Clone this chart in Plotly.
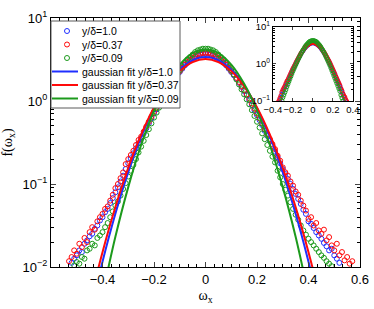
import plotly.graph_objects as go

# bin centres of omega_x (shared by all series)
omega_x = [-0.53, -0.52, -0.51, -0.50, -0.49, -0.48, -0.47, -0.46, -0.45, -0.44,
           -0.43, -0.42, -0.41, -0.40, -0.39, -0.38, -0.37, -0.36, -0.35, -0.34,
           -0.33, -0.32, -0.31, -0.30, -0.29, -0.28, -0.27, -0.26, -0.25, -0.24,
           -0.23, -0.22, -0.21, -0.20, -0.19, -0.18, -0.17, -0.16, -0.15, -0.14,
           -0.13, -0.12, -0.11, -0.10, -0.09, -0.08, -0.07, -0.06, -0.05, -0.04,
           -0.03, -0.02, -0.01, 0.00, 0.01, 0.02, 0.03, 0.04, 0.05, 0.06,
           0.07, 0.08, 0.09, 0.10, 0.11, 0.12, 0.13, 0.14, 0.15, 0.16,
           0.17, 0.18, 0.19, 0.20, 0.21, 0.22, 0.23, 0.24, 0.25, 0.26,
           0.27, 0.28, 0.29, 0.30, 0.31, 0.32, 0.33, 0.34, 0.35, 0.36,
           0.37, 0.38, 0.39, 0.40, 0.41, 0.42, 0.43, 0.44, 0.45, 0.46,
           0.47, 0.48, 0.49, 0.50, 0.51, 0.52, 0.53, 0.54, 0.55, 0.56, 0.57]

# log10 f(omega_x)
log10f_y100 = [None, -1.95, -1.90, -1.86, -1.80, -1.82, -1.72, -1.68, -1.63, -1.60,
               -1.54, -1.50, -1.44, -1.40, -1.34, -1.30, -1.23, -1.17, -1.10, -1.04,
               -0.97, -0.90, -0.82, -0.75, -0.69, -0.63, -0.57, -0.51, -0.45, -0.39,
               -0.33, -0.27, -0.21, -0.15, -0.10, -0.04, 0.01, 0.07, 0.12, 0.17,
               0.22, 0.27, 0.31, 0.35, 0.39, 0.43, 0.46, 0.49, 0.51, 0.53,
               0.55, 0.56, 0.57, 0.57, 0.57, 0.56, 0.55, 0.53, 0.51, 0.49,
               0.46, 0.43, 0.39, 0.35, 0.31, 0.27, 0.22, 0.17, 0.12, 0.07,
               0.01, -0.05, -0.11, -0.17, -0.23, -0.29, -0.36, -0.42, -0.48, -0.54,
               -0.61, -0.68, -0.75, -0.82, -0.88, -0.94, -1.00, -1.06, -1.12, -1.18,
               -1.24, -1.31, -1.36, -1.45, -1.48, -1.53, -1.58, -1.62, -1.66, -1.71,
               -1.75, -1.80, -1.78, -1.86, -1.90, -1.95, None, None, None, None, None]

log10f_y037 = [-1.93, -1.88, -1.80, -1.84, -1.72, -1.76, -1.65, -1.70, -1.58, -1.52,
               -1.55, -1.45, -1.40, -1.36, -1.30, -1.27, -1.20, -1.13, -1.05, -1.00,
               -0.93, -0.86, -0.76, -0.70, -0.65, -0.60, -0.53, -0.47, -0.43, -0.37,
               -0.31, -0.25, -0.19, -0.13, -0.08, -0.03, 0.03, 0.08, 0.13, 0.18,
               0.23, 0.28, 0.32, 0.36, 0.40, 0.44, 0.47, 0.50, 0.52, 0.54,
               0.56, 0.57, 0.58, 0.58, 0.58, 0.57, 0.56, 0.54, 0.52, 0.50,
               0.47, 0.44, 0.40, 0.36, 0.32, 0.28, 0.23, 0.18, 0.13, 0.08,
               0.03, -0.03, -0.09, -0.15, -0.21, -0.27, -0.34, -0.40, -0.46, -0.52,
               -0.58, -0.66, -0.72, -0.80, -0.86, -0.90, -0.97, -1.02, -1.09, -1.13,
               -1.20, -1.26, -1.32, -1.42, -1.40, -1.50, -1.47, -1.56, -1.60, -1.55,
               -1.68, -1.64, -1.74, -1.80, -1.72, -1.86, -1.82, -1.92, -1.88, -1.96, -1.93]

log10f_y009 = [None, None, -1.98, -1.94, -1.96, -1.88, -1.90, -1.80, -1.78, -1.72,
               -1.74, -1.65, -1.62, -1.58, -1.52, -1.47, -1.40, -1.33, -1.26, -1.21,
               -1.14, -1.06, -0.99, -0.91, -0.84, -0.77, -0.70, -0.62, -0.55, -0.48,
               -0.41, -0.34, -0.27, -0.20, -0.14, -0.08, -0.02, 0.04, 0.10, 0.16,
               0.21, 0.27, 0.32, 0.37, 0.41, 0.46, 0.50, 0.53, 0.56, 0.59,
               0.61, 0.62, 0.63, 0.63, 0.63, 0.62, 0.61, 0.59, 0.56, 0.53,
               0.50, 0.46, 0.41, 0.37, 0.32, 0.26, 0.20, 0.14, 0.08, 0.02,
               -0.04, -0.11, -0.18, -0.25, -0.32, -0.39, -0.46, -0.53, -0.60, -0.67,
               -0.74, -0.84, -0.92, -1.00, -1.07, -1.14, -1.22, -1.30, -1.37, -1.43,
               -1.50, -1.56, -1.61, -1.66, -1.70, -1.74, -1.78, -1.82, -1.86, -1.89,
               -1.93, -1.96, -1.99, None, None, None, None, None, None, None, None]

fit_x = [-0.45, -0.40, -0.35, -0.30, -0.25, -0.20, -0.15, -0.10, -0.05, 0.00,
         0.05, 0.10, 0.15, 0.20, 0.25, 0.30, 0.35, 0.40, 0.45]
fit_y100 = [0.00256, 0.0116, 0.0439, 0.139, 0.369, 0.820, 1.53, 2.38, 3.11, 3.40,
            3.11, 2.38, 1.53, 0.820, 0.369, 0.139, 0.0439, 0.0116, 0.00256]
fit_y037 = [0.00363, 0.0151, 0.0528, 0.157, 0.394, 0.838, 1.51, 2.29, 2.94, 3.20,
            2.94, 2.29, 1.51, 0.838, 0.394, 0.157, 0.0528, 0.0151, 0.00363]
fit_y009 = [0.0010, 0.00469, 0.0231, 0.0917, 0.295, 0.767, 1.61, 2.74, 3.78, 4.20,
            3.78, 2.74, 1.61, 0.767, 0.295, 0.0917, 0.0231, 0.00469, 0.0010]

names_pts = ["y/δ=1.0", "y/δ=0.37", "y/δ=0.09"]
names_fit = ["gaussian fit y/δ=1.0", "gaussian fit y/δ=0.37", "gaussian fit y/δ=0.09"]
colors = ["#1f2fff", "#ff0a0a", "#1c9a1c"]


def to_f(vals):
    return [None if v is None else 10 ** v for v in vals]


pts = [to_f(log10f_y100), to_f(log10f_y037), to_f(log10f_y009)]
fits = [fit_y100, fit_y037, fit_y009]

fig = go.Figure()
for i in range(3):
    fig.add_trace(go.Scatter(x=omega_x, y=pts[i], mode="markers", name=names_pts[i],
                             showlegend=False,
                             marker=dict(symbol="circle-open", size=5, color=colors[i],
                                         line=dict(width=1, color=colors[i])),
                             xaxis="x", yaxis="y"))
for i in range(3):
    fig.add_trace(go.Scatter(x=fit_x, y=fits[i], mode="lines", name=names_fit[i],
                             showlegend=False,
                             line=dict(color=colors[i], width=2, shape="spline"),
                             xaxis="x", yaxis="y"))
# inset
for i in range(3):
    fig.add_trace(go.Scatter(x=omega_x, y=pts[i], mode="markers", showlegend=False,
                             marker=dict(symbol="circle-open", size=4, color=colors[i],
                                         line=dict(width=1, color=colors[i])),
                             xaxis="x2", yaxis="y2"))

# ---- compact legend box (drawn as layout shapes + text) ----
W, H = 374, 309
L, R, T, B = 51, 14, 18, 42
PW, PH = W - L - R, H - T - B


def px_x(p):
    return (p - L) / PW


def px_y(p):
    return (H - B - p) / PH


shapes = [dict(type="rect", xref="paper", yref="paper", layer="above",
               x0=px_x(51), x1=px_x(180), y0=px_y(108), y1=px_y(21),
               line=dict(color="#5a5a5a", width=1), fillcolor="white")]
annotations = []
row_y = [31, 44.5, 58, 71.5, 85, 98.5]
legend_font = dict(family="Liberation Sans, Arial, sans-serif", size=10.5, color="black")
for k in range(6):
    cy = row_y[k]
    if k < 3:
        c = colors[k]
        shapes.append(dict(type="circle", xref="paper", yref="paper", layer="above",
                           x0=px_x(64.5), x1=px_x(69.5), y0=px_y(cy + 2.5), y1=px_y(cy - 2.5),
                           line=dict(color=c, width=1), fillcolor="rgba(0,0,0,0)"))
        label = names_pts[k]
    else:
        c = colors[k - 3]
        shapes.append(dict(type="line", xref="paper", yref="paper", layer="above",
                           x0=px_x(52), x1=px_x(78), y0=px_y(cy), y1=px_y(cy),
                           line=dict(color=c, width=2)))
        label = names_fit[k - 3]
    annotations.append(dict(text=label, xref="paper", yref="paper", x=px_x(80), y=px_y(cy),
                            xanchor="left", yanchor="middle", showarrow=False,
                            font=legend_font))

sup = lambda e: "10<sup>%s</sup>" % e
minor_log = [m * 10 ** k for k in (-3, -2, -1, 0) for m in range(2, 10)]
tickfont = dict(family="Liberation Sans, Arial, sans-serif", size=13, color="black")
smallfont = dict(family="Liberation Sans, Arial, sans-serif", size=9.5, color="black")
titlefont = dict(family="Liberation Serif, Times New Roman, serif", size=14, color="black")

fig.update_layout(
    width=W, height=H,
    margin=dict(l=L, r=R, t=T, b=B),
    paper_bgcolor="white", plot_bgcolor="white",
    showlegend=False,
    shapes=shapes, annotations=annotations,
    xaxis=dict(domain=[0, 1], range=[-0.6, 0.6], tickvals=[-0.4, -0.2, 0, 0.2, 0.4, 0.6],
               ticktext=["−0.4", "−0.2", "0", "0.2", "0.4", "0.6"], automargin=False,
               ticks="inside", ticklen=5, showline=True, linecolor="black", linewidth=1,
               mirror="ticks", showgrid=False, zeroline=False, tickfont=tickfont,
               minor=dict(ticks="inside", ticklen=3, dtick=0.2 / 6, tick0=0, tickcolor="black"),
               title=dict(text="ω<sub>x</sub>", standoff=4, font=titlefont)),
    yaxis=dict(domain=[0, 1], type="log", range=[-2, 1], tickvals=[0.01, 0.1, 1, 10],
               ticktext=[sup("−2"), sup("−1"), sup("0"), sup("1")], automargin=False,
               ticks="inside", ticklen=5, showline=True, linecolor="black", linewidth=1,
               mirror="ticks", showgrid=False, zeroline=False, tickfont=tickfont,
               minor=dict(ticks="inside", ticklen=3, tickvals=minor_log, tickcolor="black"),
               title=dict(text="f(ω<sub>x</sub>)", standoff=6, font=titlefont)),
    xaxis2=dict(domain=[0.718, 0.977], anchor="y2", range=[-0.4, 0.4], automargin=False,
                tickvals=[-0.4, -0.2, 0, 0.2, 0.4], ticktext=["−0.4", "−0.2", "0", "0.2", "0.4"],
                tickangle=0,
                ticks="inside", ticklen=3, showline=True, linecolor="black", linewidth=1,
                mirror="ticks", showgrid=False, zeroline=False, tickfont=smallfont),
    yaxis2=dict(domain=[0.667, 0.964], anchor="x2", type="log", range=[-1, 1], automargin=False,
                tickvals=[0.1, 1, 10], ticktext=[sup("−1"), sup("0"), sup("1")],
                ticks="inside", ticklen=3, showline=True, linecolor="black", linewidth=1,
                mirror="ticks", showgrid=False, zeroline=False, tickfont=smallfont,
                minor=dict(ticks="inside", ticklen=2, tickvals=minor_log, tickcolor="black")),
)

fig.write_html("out.html", config={"displayModeBar": False},
               post_script="document.body.style.margin='0px';document.body.style.padding='0px';")
